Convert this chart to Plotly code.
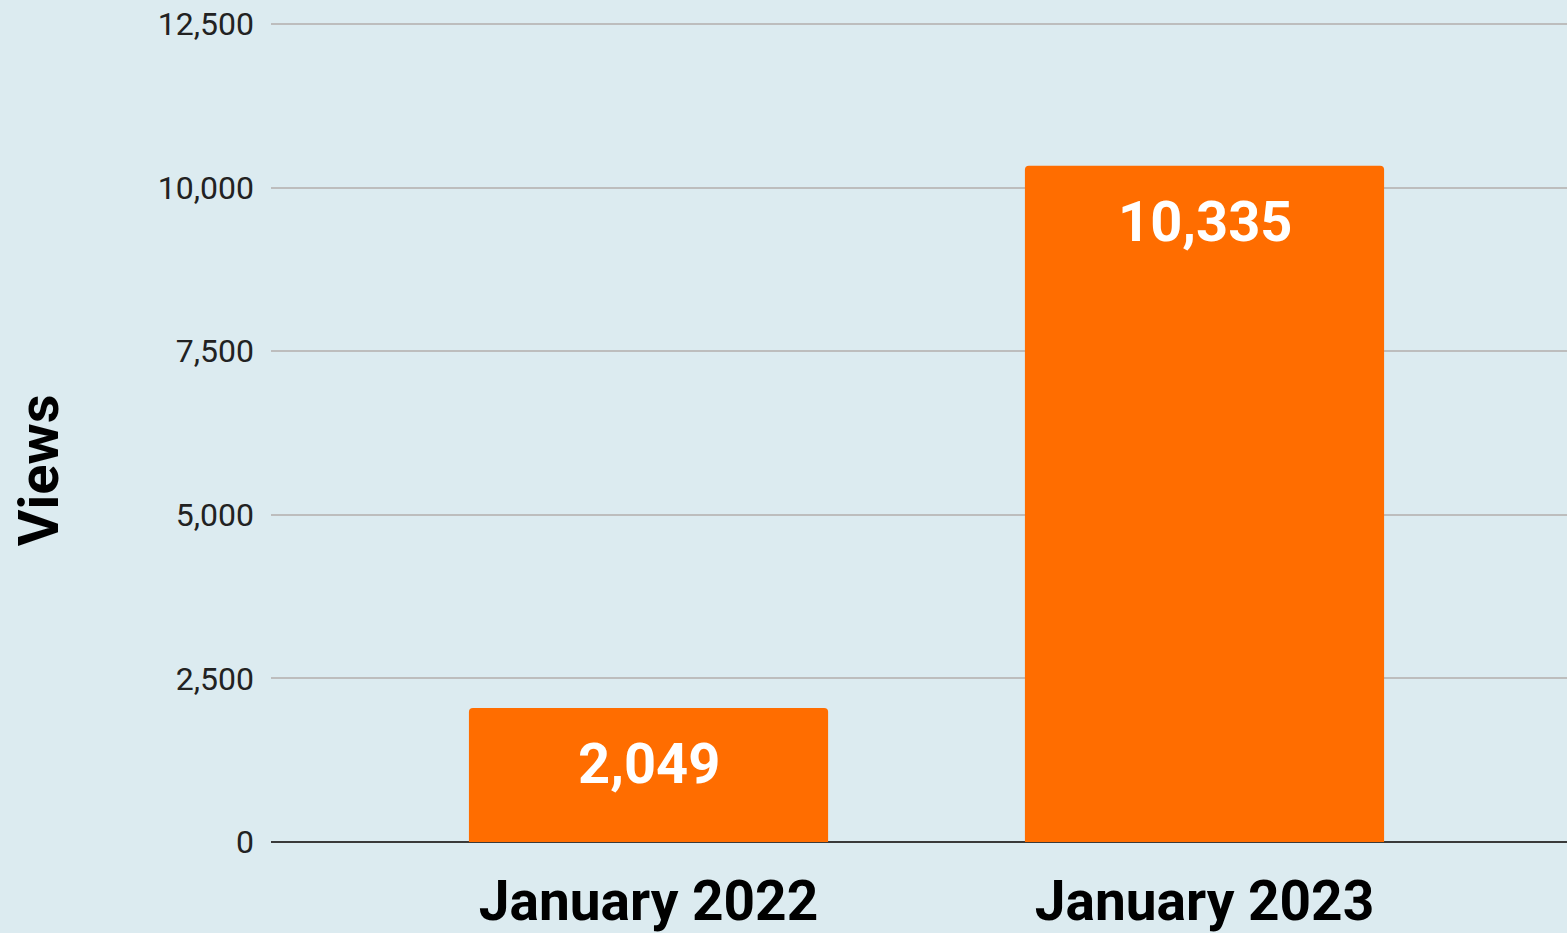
import plotly.graph_objects as go

categories = ["January 2022", "January 2023"]
views = [2049, 10335]
tick_vals = [0, 2500, 5000, 7500, 10000, 12500]
tick_text = ["0", "2,500", "5,000", "7,500", "10,000", "12,500"]
value_labels = ["2,049", "10,335"]

BG = "#DCEBF0"
ORANGE = "#FF6D00"

fig = go.Figure()
fig.add_trace(go.Bar(
    x=categories, y=views, width=0.646,
    marker=dict(color=ORANGE, line=dict(width=0)),
    hoverinfo="skip",
))

for c, v, t in zip(categories, views, value_labels):
    fig.add_annotation(
        x=c, y=v, text=t, showarrow=False, yanchor="middle", yshift=-56,
        font=dict(family="Roboto", size=56, color="white", weight=700),
    )

fig.add_annotation(
    xref="paper", yref="paper", x=0, y=0.4535, xshift=-232,
    text="Views", textangle=-90, showarrow=False,
    xanchor="center", yanchor="middle",
    font=dict(family="Roboto", size=56, color="black", weight=700),
)

fig.update_layout(
    width=1567, height=933,
    margin=dict(l=271, r=0, t=22, b=91),
    paper_bgcolor=BG, plot_bgcolor=BG,
    showlegend=False, barcornerradius=4,
    xaxis=dict(
        range=[-0.679, 1.652], showgrid=False, zeroline=False, showline=False,
        ticks="", ticklabelstandoff=22,
        tickfont=dict(family="Roboto", size=55, color="black", weight=700),
    ),
    yaxis=dict(
        range=[0, 12530], tickvals=tick_vals, ticktext=tick_text,
        showgrid=True, gridcolor="#BDBDBD", gridwidth=2,
        zeroline=True, zerolinecolor="#3A3A3A", zerolinewidth=2,
        showline=False, ticks="", ticklabelstandoff=16,
        tickfont=dict(family="Roboto", size=32, color="#222222"),
    ),
)

fig.write_html(
    "out.html",
    config={"displayModeBar": False},
    post_script="document.body.style.margin='0';document.body.style.padding='0';document.body.style.overflow='hidden';",
)
